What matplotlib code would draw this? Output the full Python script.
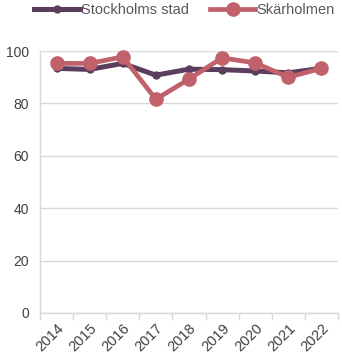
import matplotlib
matplotlib.use("Agg")
import matplotlib.pyplot as plt
from matplotlib.lines import Line2D
import numpy as np

years = ["2014", "2015", "2016", "2017", "2018", "2019", "2020", "2021", "2022"]
stockholm = [93.4, 93.0, 95.3, 90.8, 93.1, 92.9, 92.4, 91.7, 93.4]
skarholmen = [95.3, 95.3, 97.8, 81.6, 89.3, 97.4, 95.5, 90.0, 93.4]
yticks = [0, 20, 40, 60, 80, 100]

c_sthlm = "#5b3d5e"
c_skh = "#c0616b"
grid_c = "#d9d9d9"
text_c = "#595959"

plt.rcParams["font.family"] = ["Liberation Sans", "DejaVu Sans"]

fig = plt.figure(figsize=(3.42, 3.6), dpi=100)
ax = fig.add_axes([0.117, 0.1306, 0.871, 0.7275])

x = np.arange(len(years))
ax.plot(x, stockholm, color=c_sthlm, lw=3.6, marker="o", ms=5,
        solid_capstyle="round", zorder=3, clip_on=False)
ax.plot(x, skarholmen, color=c_skh, lw=3.4, marker="o", ms=9.5,
        solid_capstyle="round", zorder=4, clip_on=False)

ax.set_xlim(-0.5, len(years) - 0.5)
ax.set_ylim(0, 100)
ax.set_yticks(yticks)
ax.set_yticklabels([str(v) for v in yticks], fontsize=10, color="#404040")
ax.yaxis.grid(True, color=grid_c, lw=1)
ax.set_axisbelow(True)
ax.tick_params(axis="y", length=0, pad=8)

ax.set_xticks(x)
ax.set_xticklabels(years, rotation=45, ha="right", rotation_mode="anchor",
                   fontsize=10.5, color="#404040")
ax.tick_params(axis="x", which="major", length=0, pad=6)
ax.set_xticks(np.arange(len(years) + 1) - 0.5, minor=True)
ax.tick_params(axis="x", which="minor", length=5, color=grid_c, width=1)

for s in ["top", "right"]:
    ax.spines[s].set_visible(False)
for s in ["left", "bottom"]:
    ax.spines[s].set_color(grid_c)
    ax.spines[s].set_linewidth(1)

handles = [
    Line2D([], [], color=c_sthlm, lw=3.6, marker="o", ms=5),
    Line2D([], [], color=c_skh, lw=3.4, marker="o", ms=9.5),
]
fig.legend(handles, ["Stockholms stad", "Skärholmen"], loc="upper center",
           bbox_to_anchor=(0.54, 1.025), ncol=2, frameon=False, fontsize=10.5,
           handlelength=3.1, handletextpad=0.1, columnspacing=1.45,
           borderpad=0.3, labelcolor=text_c)

fig.savefig("out.png", dpi=100)
